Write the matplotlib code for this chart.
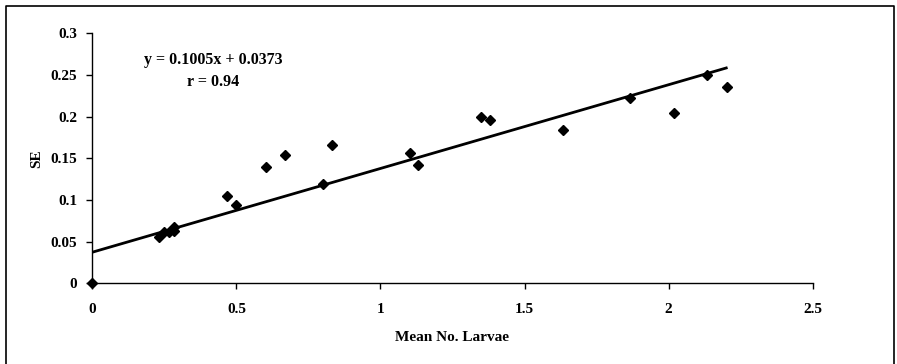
import matplotlib.pyplot as plt

# data
mean_larvae = [0.0, 0.231, 0.249, 0.267, 0.283, 0.283, 0.468, 0.50, 0.602, 0.668,
               0.80, 0.833, 1.102, 1.132, 1.35, 1.381, 1.635, 1.867, 2.02, 2.134, 2.201]
se_values = [0.0, 0.055, 0.062, 0.061, 0.068, 0.063, 0.105, 0.094, 0.139, 0.154,
             0.119, 0.166, 0.156, 0.142, 0.199, 0.196, 0.184, 0.222, 0.204, 0.250, 0.236]
slope = 0.1005
intercept = 0.0373
fit_x = [0.0, 2.2]
x_ticks = [0, 0.5, 1, 1.5, 2, 2.5]
x_tick_labels = ["0", "0.5", "1", "1.5", "2", "2.5"]
y_ticks = [0, 0.05, 0.1, 0.15, 0.2, 0.25, 0.3]
y_tick_labels = ["0", "0.05", "0.1", "0.15", "0.2", "0.25", "0.3"]

plt.rcParams['font.family'] = ['Liberation Serif', 'DejaVu Serif']
plt.rcParams['font.weight'] = 'bold'
FS = 11

fig = plt.figure(figsize=(8.97, 3.64), dpi=100)
ax = fig.add_axes([0.1029, 0.2217, 0.8031, 0.6868])

fit_y = [slope * x + intercept for x in fit_x]
ax.plot(fit_x, fit_y, color='black', linewidth=2, zorder=2)
ax.plot(mean_larvae, se_values, linestyle='none', marker='D', markersize=5,
        color='black', zorder=3, clip_on=False)

ax.set_xlim(0, 2.5)
ax.set_ylim(0, 0.3)
ax.set_xticks(x_ticks)
ax.set_xticklabels(x_tick_labels, fontsize=FS, fontweight='bold')
ax.set_yticks(y_ticks)
ax.set_yticklabels(y_tick_labels, fontsize=FS, fontweight='bold')
ax.tick_params(axis='both', direction='out', length=4, width=1, color='black')
ax.tick_params(axis='x', pad=10)
ax.tick_params(axis='y', pad=7)

for side in ['top', 'right']:
    ax.spines[side].set_visible(False)
for side in ['left', 'bottom']:
    ax.spines[side].set_linewidth(1)

ax.set_xlabel('Mean No. Larvae', fontsize=FS, fontweight='bold', labelpad=11)
ax.set_ylabel('SE', fontsize=FS, fontweight='bold', labelpad=5)

ax.text(0.42, 0.268, 'y = 0.1005x + 0.0373', ha='center', va='center',
        fontsize=11.5, fontweight='bold')
ax.text(0.42, 0.2416, 'r = 0.94', ha='center', va='center',
        fontsize=11.5, fontweight='bold')

# outer chart frame (left, top, right)
fig.add_artist(plt.Line2D([0.0067, 0.0067, 0.9967, 0.9967], [0.0, 0.9845, 0.9845, 0.0],
                          color='black', linewidth=1.2, transform=fig.transFigure))

fig.savefig('out.png', dpi=100)
